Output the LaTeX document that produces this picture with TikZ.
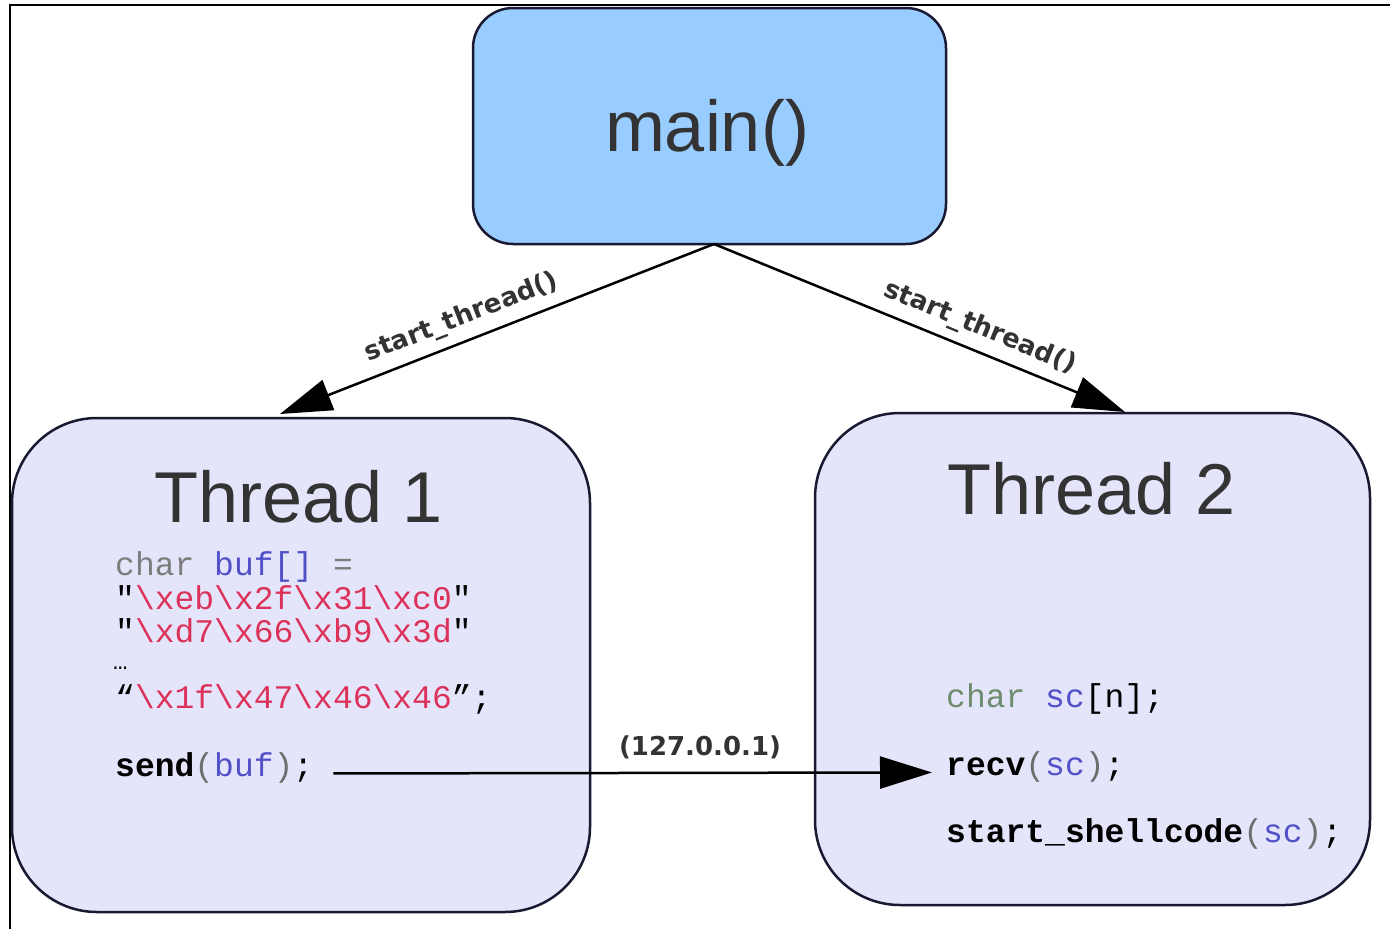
\documentclass[tikz,border=0pt]{standalone}
\usepackage{fontspec}
\setmainfont{Liberation Sans}
\setmonofont{Liberation Mono}
\newfontfamily\lblfont{DejaVu Sans}
\usetikzlibrary{arrows.meta}
\definecolor{edgecol}{RGB}{25,25,50}
\definecolor{mainfill}{RGB}{153,204,255}
\definecolor{thfill}{RGB}{228,228,250}
\definecolor{titlecol}{RGB}{51,51,51}
\definecolor{kwgray}{RGB}{125,125,125}
\definecolor{kwgreen}{RGB}{110,140,110}
\definecolor{varblue}{RGB}{80,80,200}
\definecolor{strred}{RGB}{220,50,90}
\definecolor{parcol}{RGB}{110,110,110}
\tikzset{
  box/.style={draw=edgecol, line width=2.5pt},
  title/.style={font=\fontsize{72}{80}\selectfont, text=titlecol, anchor=base},
  code/.style={font=\ttfamily\fontsize{33}{38}\selectfont, anchor=base west, inner sep=0pt},
  lbl/.style={font=\lblfont\bfseries\fontsize{26}{30}\selectfont, text=titlecol, inner sep=0pt},
  conn/.style={line width=2.5pt, -{Triangle[length=52pt,width=32pt]}},
}
\begin{document}
\begin{tikzpicture}[x=1pt,y=-1pt]
\useasboundingbox (0,0) rectangle (1390,929);
\fill[white] (0,0) rectangle (1390,929);
% frame
\draw[line width=2pt] (9.5,929) -- (9.5,5) -- (1390,5);
% boxes
\draw[box, fill=mainfill, rounded corners=40pt] (473,8) rectangle (946,244);
\draw[box, fill=thfill, rounded corners=85pt] (12,418) rectangle (590,912);
\draw[box, fill=thfill, rounded corners=85pt] (815,413) rectangle (1370,905);
\coordinate (mainout) at (714,244);
\coordinate (t1in) at (280,414);
\coordinate (t2in) at (1125,412);
% titles
\node[title] (main) at (707,151) {main()};
\node[title] (th1) at (299,522) {Thread 1};
\node[title] (th2) at (1092,514) {Thread 2};
% thread 1 code
\node[code] (c1) at (115,575) {\textcolor{kwgray}{char} \textcolor{varblue}{buf[]} \textcolor{kwgray}{=}};
\node[code] (c2) at (115,609) {"\textcolor{strred}{\textbackslash xeb\textbackslash x2f\textbackslash x31\textbackslash xc0}"};
\node[code] (c3) at (115,642) {"\textcolor{strred}{\textbackslash xd7\textbackslash x66\textbackslash xb9\textbackslash x3d}"};
\node[code, font=\ttfamily\fontsize{24}{26}\selectfont] (c4) at (113,669) {…};
\node[code] (c5) at (115,708) {“\textcolor{strred}{\textbackslash x1f\textbackslash x47\textbackslash x46\textbackslash x46}”;};
\node[code] (send) at (115,776) {\textbf{send}\textcolor{parcol}{(}\textcolor{varblue}{buf}\textcolor{parcol}{)};};
% thread 2 code
\node[code] (d1) at (946,707) {\textcolor{kwgreen}{char} \textcolor{varblue}{sc}[n];};
\node[code] (recv) at (946,775) {\textbf{recv}\textcolor{parcol}{(}\textcolor{varblue}{sc}\textcolor{parcol}{)};};
\node[code] (d3) at (946,842) {\textbf{start\_shellcode}\textcolor{parcol}{(}\textcolor{varblue}{sc}\textcolor{parcol}{)};};
% connectors
\draw[conn] (mainout) -- (t1in);
\draw[conn] (mainout) -- (t2in);
\draw[conn] ([xshift=20pt,yshift=-6pt]send.east) -- ([xshift=-14pt,yshift=-6pt]recv.west);
% labels
\node[lbl, rotate=21.3] (l1) at (462,318) {start\_thread()};
\node[lbl, rotate=-22.4] (l2) at (980,328) {start\_thread()};
\node[lbl] (l3) at (700,747) {(127.0.0.1)};
\end{tikzpicture}
\end{document}
